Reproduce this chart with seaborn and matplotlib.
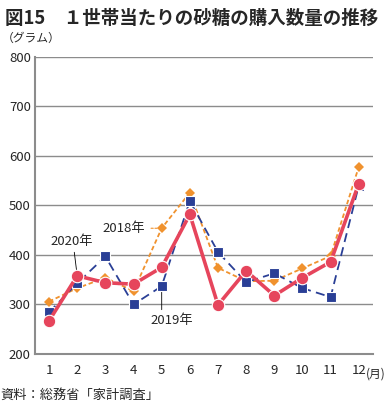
import numpy as np
import pandas as pd
import matplotlib
matplotlib.use("Agg")
import matplotlib.pyplot as plt
import seaborn as sns

# データ（グラム）
months = list(range(1, 13))
y2018 = [306, 333, 354, 327, 454, 526, 374, 347, 348, 373, 398, 578]
y2019 = [284, 343, 397, 300, 337, 509, 406, 345, 363, 333, 315, 540]
y2020 = [267, 358, 344, 341, 375, 482, 299, 368, 318, 354, 386, 544]

sns.set_style("white")
plt.rcParams['font.family'] = ['Noto Sans CJK JP', 'DejaVu Sans']

df = pd.DataFrame({'month': months, '2018': y2018, '2019': y2019, '2020': y2020})

fig = plt.figure(figsize=(3.9, 4.03), dpi=100)
ax = fig.add_axes([0.0897, 0.1216, 0.8663, 0.737])

sns.lineplot(data=df, x='month', y='2018', ax=ax, color='#f0922e', linestyle=(0, (2.5, 1.5)),
             linewidth=1.3, marker='D', markersize=5, markeredgewidth=0, zorder=3)
sns.lineplot(data=df, x='month', y='2019', ax=ax, color='#2a3f96', linestyle=(0, (5, 3)),
             linewidth=1.3, marker='s', markersize=7, markeredgecolor='white',
             markeredgewidth=0.8, zorder=4)
sns.lineplot(data=df, x='month', y='2020', ax=ax, color='#e6455c', linestyle='-',
             linewidth=2.6, marker='o', markersize=9, markeredgecolor='white',
             markeredgewidth=0.8, zorder=5)

ax.set_xlim(0.5, 12.5)
ax.set_ylim(200, 800)
ax.set_yticks(range(200, 801, 100))
ax.set_xticks(months)
ax.set_xticks(np.arange(0.5, 12.6, 1), minor=True)
ax.yaxis.grid(True, color='#8c8c8c', linewidth=1.0)
ax.set_axisbelow(True)
ax.tick_params(axis='x', which='major', length=0, pad=7, labelsize=9.5)
ax.tick_params(axis='x', which='minor', direction='in', length=3, color='#8c8c8c')
ax.tick_params(axis='y', length=0, pad=3, labelsize=9.5)
ax.set_xlabel('')
ax.set_ylabel('')
for s in ['top', 'right']:
    ax.spines[s].set_visible(False)
ax.spines['left'].set_color('#8c8c8c')
ax.spines['left'].set_linewidth(1.5)
ax.spines['bottom'].set_color('#8c8c8c')
ax.spines['bottom'].set_linewidth(1.5)

# 注釈
ax.annotate('2018年', xy=(5, 454), xytext=(3.65, 454), fontsize=9.5, va='center', ha='center',
            arrowprops=dict(arrowstyle='-', color='#f0922e', linewidth=0.8,
                            linestyle=(0, (2, 1.5)), shrinkA=2, shrinkB=0))
ax.annotate('2020年', xy=(2, 358), xytext=(1.8, 428), fontsize=9.5, va='center', ha='center',
            arrowprops=dict(arrowstyle='-', color='black', linewidth=0.6,
                            relpos=(0.55, 0), shrinkA=1, shrinkB=0))
ax.annotate('2019年', xy=(5, 337), xytext=(5.35, 267), fontsize=9.5, va='center', ha='center',
            arrowprops=dict(arrowstyle='-', color='black', linewidth=0.6,
                            relpos=(0.27, 1), shrinkA=1, shrinkB=0))

fig.text(0.013, 0.978, '図15　１世帯当たりの砂糖の購入数量の推移', fontsize=13.3,
         fontweight='bold', va='top', ha='left')
fig.text(0.005, 0.905, '（グラム）', fontsize=8.5, va='center', ha='left')
fig.text(0.938, 0.072, '(月)', fontsize=8.5, va='center', ha='left')
fig.text(0.0, 0.018, '資料：総務省「家計調査」', fontsize=9.5, va='center', ha='left')

plt.savefig('out.png', dpi=100)
